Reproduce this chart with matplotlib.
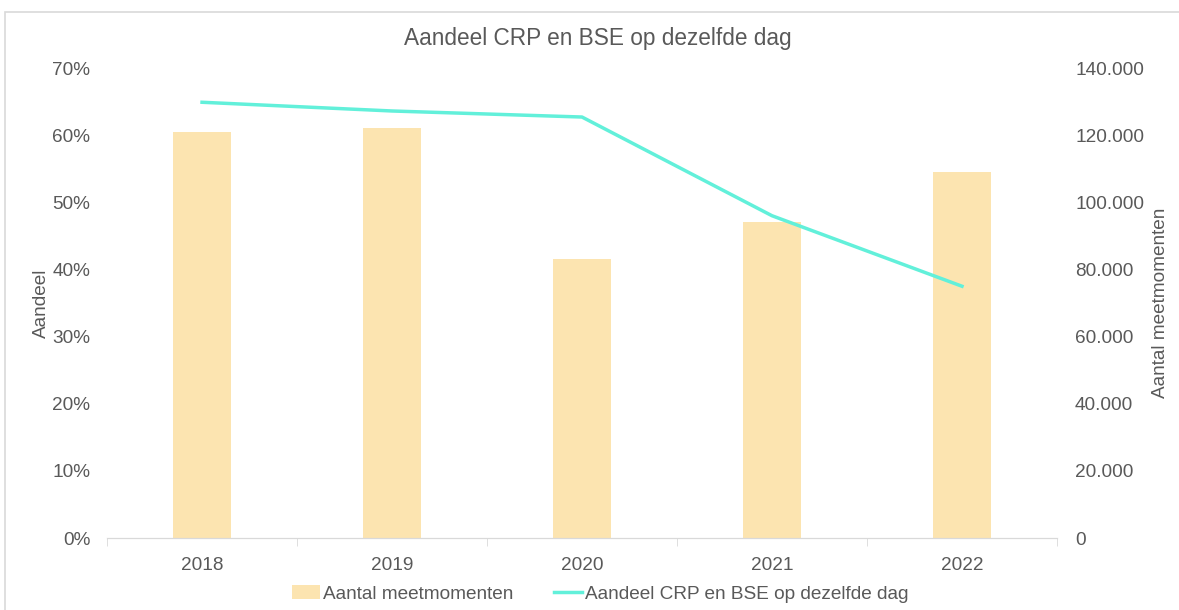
import matplotlib.pyplot as plt
from matplotlib.patches import Rectangle
from matplotlib.ticker import FuncFormatter, MultipleLocator

years = ["2018", "2019", "2020", "2021", "2022"]
meetmomenten = [121000, 122000, 83000, 94000, 109000]
aandeel = [0.649, 0.636, 0.627, 0.480, 0.375]

plt.rcParams["font.family"] = ["Liberation Sans", "DejaVu Sans"]
txt = "#595959"
fs = 13.7

fig = plt.figure(figsize=(11.79, 6.10), dpi=100)
fig.patches.append(Rectangle((0.004, -0.01), 1.2, 0.99, transform=fig.transFigure,
                             fill=False, edgecolor="#D9D9D9", linewidth=1.2))

ax = fig.add_axes([0.0908, 0.118, 0.8057, 0.7705])
ax2 = ax.twinx()

x = range(len(years))
bars = ax2.bar(x, meetmomenten, width=0.31, color="#FCE4B0", label="Aantal meetmomenten")
line, = ax.plot(x, aandeel, color="#62F0DA", linewidth=2.5, label="Aandeel CRP en BSE op dezelfde dag")

ax.set_zorder(ax2.get_zorder() + 1)
ax.patch.set_visible(False)

ax.set_xlim(-0.5, 4.5)
ax.set_ylim(0, 0.7)
ax2.set_ylim(0, 140000)
ax.yaxis.set_major_locator(MultipleLocator(0.1))
ax.yaxis.set_major_formatter(FuncFormatter(lambda v, p: f"{v*100:.0f}%"))
ax2.yaxis.set_major_locator(MultipleLocator(20000))
ax2.yaxis.set_major_formatter(FuncFormatter(lambda v, p: f"{v:,.0f}".replace(",", ".")))

ax.set_xticks(list(x))
ax.set_xticklabels(years)
ax.set_xticks([i - 0.5 for i in range(len(years) + 1)], minor=True)
ax.tick_params(axis="x", which="major", length=0, pad=13.5, labelsize=fs, labelcolor=txt)
ax.tick_params(axis="x", which="minor", length=6, color="#D9D9D9")
ax.tick_params(axis="y", length=0, pad=12, labelsize=fs, labelcolor=txt)
ax2.tick_params(axis="y", length=0, pad=13, labelsize=fs, labelcolor=txt)

for a in (ax, ax2):
    for s in ("top", "left", "right"):
        a.spines[s].set_visible(False)
    a.spines["bottom"].set_color("#D9D9D9")

ax.set_ylabel("Aandeel", fontsize=fs, color=txt, labelpad=2)
ax2.set_ylabel("Aantal meetmomenten", fontsize=fs, color=txt, labelpad=6)
fig.text(0.507, 0.937, "Aandeel CRP en BSE op dezelfde dag", fontsize=16.3, color=txt,
         ha="center", va="center")

fig.legend([bars, line], ["Aantal meetmomenten", "Aandeel CRP en BSE op dezelfde dag"],
           loc="center", bbox_to_anchor=(0.509, 0.026), ncol=2, frameon=False,
           fontsize=fs, labelcolor=txt, handlelength=1.5, columnspacing=2.1, handletextpad=0.15)

fig.savefig("out.png", dpi=100)
